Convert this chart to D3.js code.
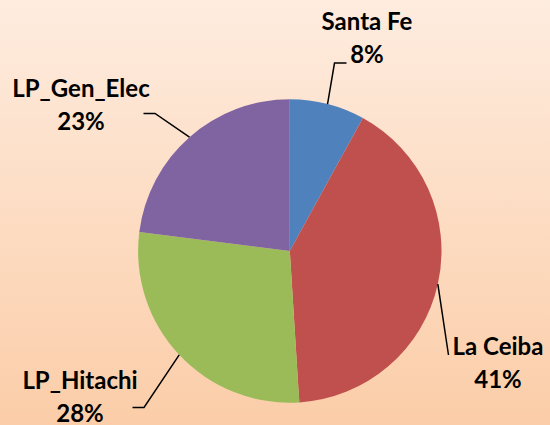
<!DOCTYPE html>
<html>
<head>
<meta charset="utf-8">
<script src="https://cdn.jsdelivr.net/npm/d3@7/dist/d3.min.js"></script>
<style>
  html, body { margin: 0; padding: 0; }
  svg { display: block; }
</style>
</head>
<body>
<svg id="chart" width="550" height="425"></svg>
<script>
// ---- data ----
const categories = ["Santa Fe", "La Ceiba", "LP_Hitachi", "LP_Gen_Elec"];
const values = [8, 41, 28, 23];
const colors = ["#4F81BD", "#C0504D", "#9BBB59", "#8064A2"];

// ---- layout (label anchor centre x, first baseline y, leader elbow & end) ----
const labelLayout = [
  { x: 367, y: 30,  elbow: [334.5, 63],  end: [346.5, 63] },
  { x: 498, y: 355, elbow: [448.5, 355], end: [448.5, 355] },
  { x: 80,  y: 389, elbow: [144, 407.5], end: [132.5, 407.5] },
  { x: 81,  y: 97,  elbow: [155, 113.5], end: [143.5, 113.5] }
];

const W = 550, H = 425;
const cx = 289.8, cy = 251, R = 151.7;

const svg = d3.select("#chart");
const defs = svg.append("defs");
const grad = defs.append("linearGradient")
  .attr("id", "bg").attr("x1", 0).attr("y1", 0).attr("x2", 0).attr("y2", 1);
grad.append("stop").attr("offset", "0%").attr("stop-color", "#FEECDF");
grad.append("stop").attr("offset", "100%").attr("stop-color", "#FBCDA8");
svg.append("rect").attr("width", W).attr("height", H).attr("fill", "url(#bg)");

const total = d3.sum(values);
const pie = d3.pie().sort(null).value(d => d);
const arcs = pie(values);
const arc = d3.arc().innerRadius(0).outerRadius(R);

const g = svg.append("g").attr("transform", `translate(${cx},${cy})`);
g.selectAll("path.slice")
  .data(arcs)
  .join("path")
  .attr("class", "slice")
  .attr("d", arc)
  .attr("fill", (d, i) => colors[i]);

// leader lines
const lines = svg.append("g");
arcs.forEach((a, i) => {
  const mid = (a.startAngle + a.endAngle) / 2;
  const sx = cx + R * Math.sin(mid);
  const sy = cy - R * Math.cos(mid);
  const L = labelLayout[i];
  lines.append("path")
    .attr("d", d3.line()([[sx, sy], L.elbow, L.end]))
    .attr("fill", "none")
    .attr("stroke", "#000")
    .attr("stroke-width", 1.5);
});

// labels
const labels = svg.append("g")
  .attr("font-family", "Lato, 'Open Sans', sans-serif")
  .attr("font-weight", "bold")
  .attr("font-size", 24)
  .attr("fill", "#000")
  .attr("text-anchor", "middle");
arcs.forEach((a, i) => {
  const L = labelLayout[i];
  const pct = Math.round(values[i] / total * 100) + "%";
  labels.append("text").attr("x", L.x).attr("y", L.y).text(categories[i]);
  labels.append("text").attr("x", L.x).attr("y", L.y + 32.5).text(pct);
});
</script>
</body>
</html>
